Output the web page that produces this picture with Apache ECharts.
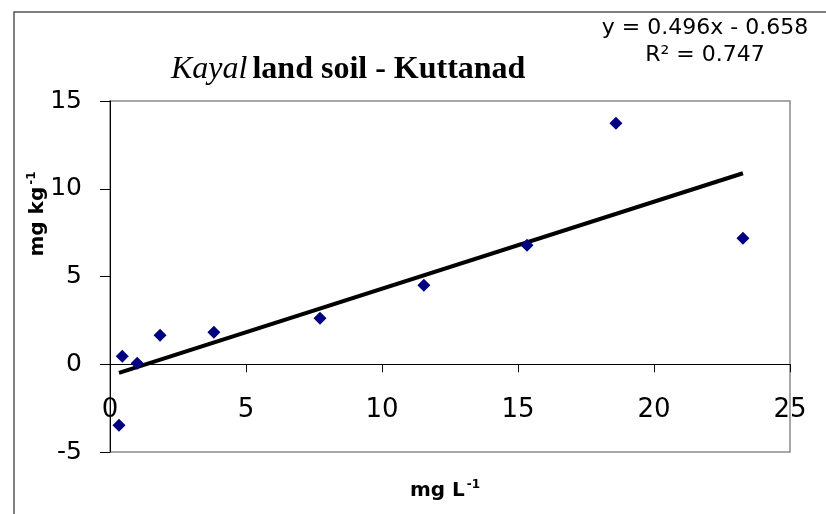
<!DOCTYPE html>
<html>
<head>
<meta charset="utf-8">
<script src="https://cdn.jsdelivr.net/npm/echarts@6/dist/echarts.min.js"></script>
<style>
  html, body { margin: 0; padding: 0; background: #fff; }
  #chart { width: 826px; height: 514px; }
</style>
</head>
<body>
<div id="chart"></div>
<script>
// Extractable (mg L-1) vs soil content (mg kg-1)
var xValues = [0.33, 0.45, 1.0, 1.84, 3.82, 7.72, 11.54, 15.33, 18.6, 23.27];
var yValues = [-3.48, 0.45, 0.05, 1.65, 1.82, 2.62, 4.5, 6.78, 13.73, 7.18];

// Linear fit reported on the chart
var slope = 0.496;
var intercept = -0.658;
var rSquared = 0.747;

var xTicks = { min: 0, max: 25, step: 5 };
var yTicks = { min: -5, max: 15, step: 5 };

var points = xValues.map(function (x, i) { return [x, yValues[i]]; });
var xLo = Math.min.apply(null, xValues);
var xHi = Math.max.apply(null, xValues);
var fitLine = [[xLo, slope * xLo + intercept], [xHi, slope * xHi + intercept]];

var sans = 'DejaVu Sans';
var chart = echarts.init(document.getElementById('chart'), null, { renderer: 'canvas' });

chart.setOption({
  animation: false,
  backgroundColor: '#ffffff',
  title: {
    text: '{i|Kayal} {b|land soil - Kuttanad}',
    left: 166,
    top: 49,
    textStyle: {
      rich: {
        i: { fontFamily: 'Liberation Serif', fontStyle: 'italic', fontWeight: 'normal', fontSize: 32, color: '#000' },
        b: { fontFamily: 'Liberation Serif', fontWeight: 'bold', fontSize: 32, color: '#000' }
      }
    }
  },
  grid: {
    left: 110, right: 36, top: 101, bottom: 62,
    show: true, borderColor: '#8a8a8a', borderWidth: 1.5, backgroundColor: '#fff'
  },
  xAxis: {
    type: 'value',
    min: xTicks.min, max: xTicks.max, interval: xTicks.step,
    axisLine: { onZero: true, lineStyle: { color: '#000', width: 1 } },
    axisTick: { show: true, inside: false, length: 8, lineStyle: { color: '#000' } },
    axisLabel: { margin: -55, fontFamily: sans, fontSize: 26, color: '#000' },
    splitLine: { show: false }
  },
  yAxis: {
    type: 'value',
    min: yTicks.min, max: yTicks.max, interval: yTicks.step,
    axisLine: { onZero: false, lineStyle: { color: '#000', width: 1 } },
    axisTick: { show: true, inside: false, length: 10, lineStyle: { color: '#000' } },
    axisLabel: { margin: 28, fontFamily: sans, fontSize: 25, color: '#000' },
    splitLine: { show: false }
  },
  graphic: [
    {
      type: 'rect', silent: true, z: -1,
      shape: { x: 14, y: 12, width: 900, height: 600 },
      style: { fill: 'none', stroke: '#555', lineWidth: 1.5 }
    },
    {
      type: 'text', x: 705, y: 28, z: 10,
      style: {
        text: 'y = ' + slope.toFixed(3) + 'x - ' + Math.abs(intercept).toFixed(3),
        fontFamily: sans, fontSize: 22, fill: '#000', align: 'center', verticalAlign: 'middle'
      }
    },
    {
      type: 'text', x: 705, y: 55, z: 10,
      style: {
        text: 'R\u00b2 = ' + rSquared.toFixed(3),
        fontFamily: sans, fontSize: 22, fill: '#000', align: 'center', verticalAlign: 'middle'
      }
    },
    {
      type: 'text', x: 445, y: 491, z: 10,
      style: {
        text: '{a|mg L}{s|-1}',
        align: 'center', verticalAlign: 'middle',
        rich: {
          a: { fontFamily: sans, fontWeight: 'bold', fontSize: 20, fill: '#000', color: '#000' },
          s: { fontFamily: sans, fontWeight: 'bold', fontSize: 12, fill: '#000', color: '#000', padding: [0, 0, 12, 2] }
        }
      }
    },
    {
      type: 'text', x: 38, y: 214, z: 10, rotation: Math.PI / 2,
      style: {
        text: '{a|mg kg}{s|-1}',
        align: 'center', verticalAlign: 'middle',
        rich: {
          a: { fontFamily: sans, fontWeight: 'bold', fontSize: 20, fill: '#000', color: '#000' },
          s: { fontFamily: sans, fontWeight: 'bold', fontSize: 12, fill: '#000', color: '#000', padding: [0, 0, 12, 2] }
        }
      }
    }
  ],
  series: [
    {
      type: 'line',
      data: fitLine,
      symbol: 'none',
      lineStyle: { color: '#000', width: 4 },
      z: 2
    },
    {
      type: 'scatter',
      data: points,
      symbol: 'diamond',
      symbolSize: 13,
      itemStyle: { color: '#000080', opacity: 1 },
      z: 3
    }
  ]
});
</script>
</body>
</html>
